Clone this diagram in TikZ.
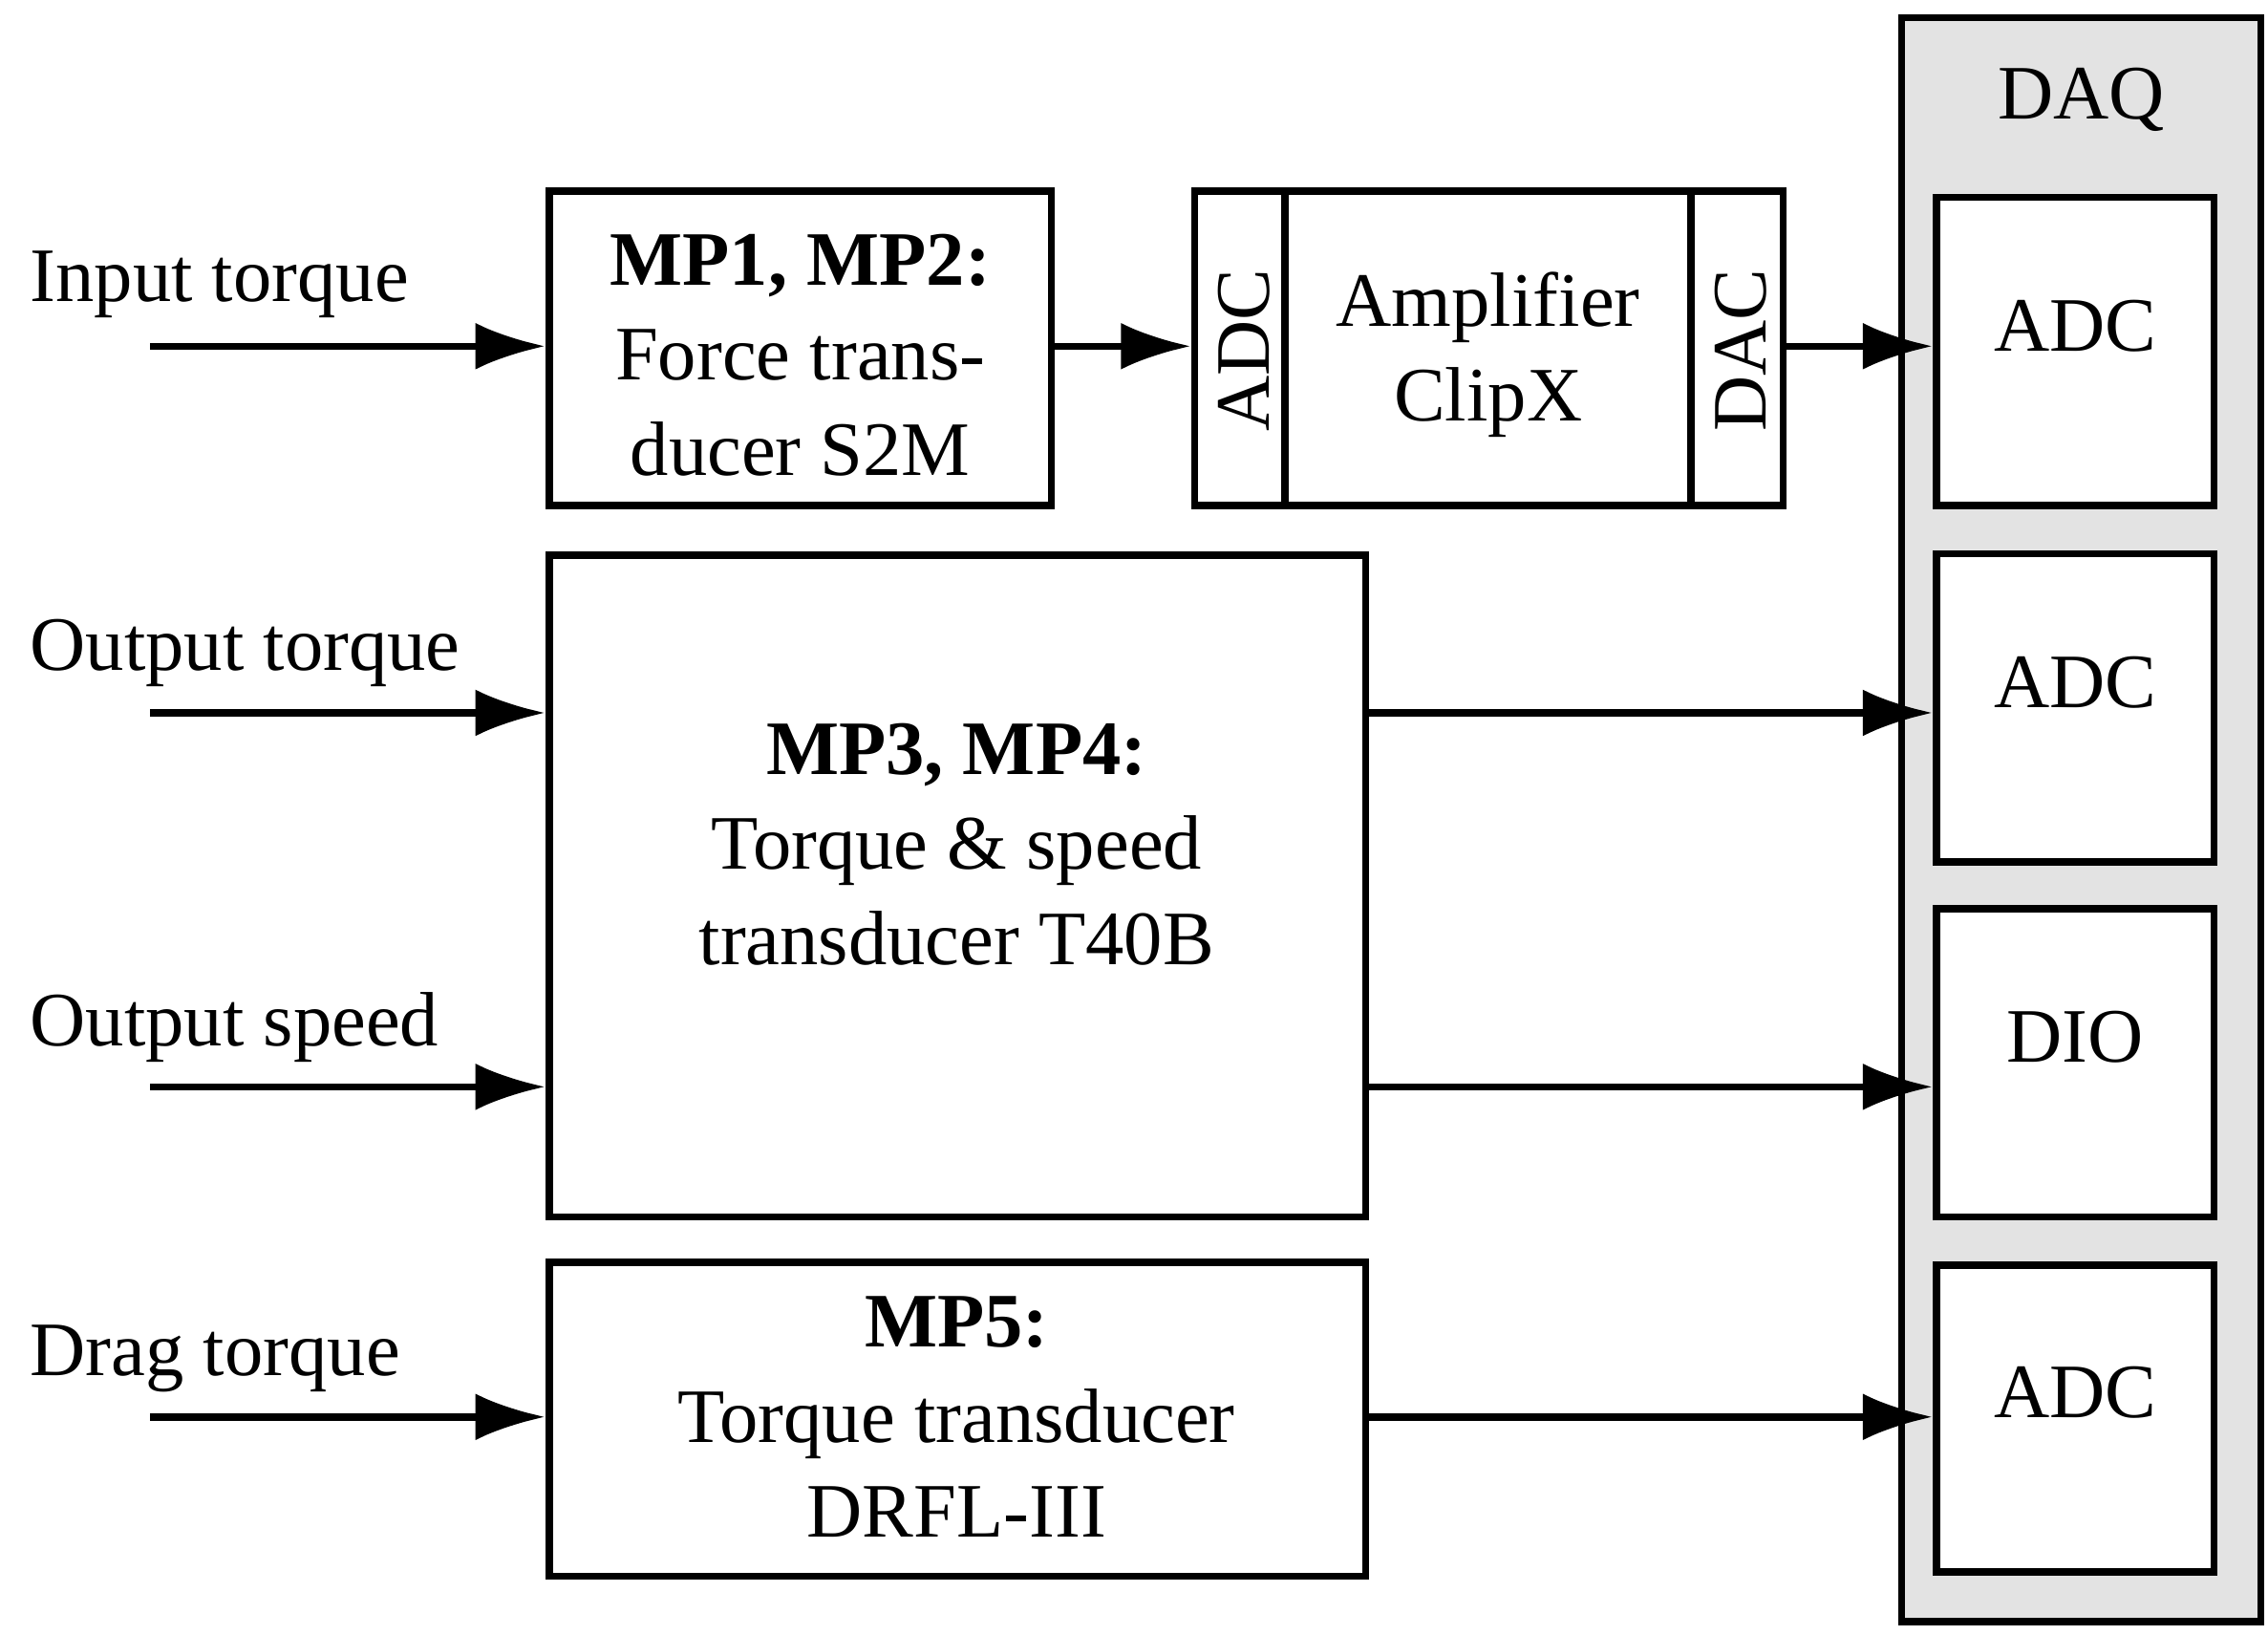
\documentclass[tikz,border=0pt]{standalone}
\usepackage{fontspec}
\setmainfont{Liberation Serif}
\usetikzlibrary{arrows.meta,fit,calc}

\tikzset{
  blk/.style={draw, line width=1.4pt, inner sep=0pt, align=center},
  txt/.style={align=center},
  sig/.style={line width=1.4pt, -{Latex[length=4.8mm,width=3.2mm]}},
  lbl/.style={anchor=west, inner sep=0pt}
}

\begin{document}
\begin{tikzpicture}[x=0.1mm,y=-0.1mm,font=\fontsize{15}{18.5}\selectfont]
        \useasboundingbox (0,0) rectangle (1553,1119);
        % DAQ frame
        \node[blk, fill=black!11, fit={(1302,12) (1548,1110)}] (daq) {};
        \node at (1425,68) {DAQ};
        \node[blk, fill=white, fit={(1326,135) (1516,346)}] (adc1) {ADC};
        \node[blk, fill=white, fit={(1326,379) (1516,590)}] (adc2) {ADC};
        \node[blk, fill=white, fit={(1326,622) (1516,833)}] (dio) {DIO};
        \node[blk, fill=white, fit={(1326,866) (1516,1076)}] (adc3) {ADC};
        % transducers
        \node[blk, fit={(376,131) (720,346)}] (mp1) {};
        \node[txt] at (548,243) {\textbf{MP1, MP2:}\\Force trans-\\ducer S2M};
        \node[blk, fit={(818,131) (1221,346)}] (amp) {};
        \node[txt] at (1019,243) {Amplifier\\ClipX};
        \draw[line width=1.4pt] (880,131) -- (880,346) (1158,131) -- (1158,346);
        \node[rotate=90] at (852,240) {ADC};
        \node[rotate=90] at (1192,240) {DAC};
        \node[blk, fit={(376,380) (935,833)}] (mp3) {};
        \node[txt] at (655,578) {\textbf{MP3, MP4:}\\Torque \& speed\\transducer T40B};
        \node[blk, fit={(376,864) (935,1079)}] (mp5) {};
        \node[txt] at (655,970) {\textbf{MP5:}\\Torque transducer\\DRFL-III};
        % inputs
        \coordinate (in1) at (103,237);
        \coordinate (in2) at (103,488);
        \coordinate (in3) at (103,744);
        \coordinate (in4) at (103,970);
        \node[lbl] at (20,195) {Input torque};
        \node[lbl] at (20,447) {Output torque};
        \node[lbl] at (20,703) {Output speed};
        \node[lbl] at (20,930) {Drag torque};
        \draw[sig] (in1) -- (mp1.west |- in1);
        \draw[sig] (in2) -- (mp3.west |- in2);
        \draw[sig] (in3) -- (mp3.west |- in3);
        \draw[sig] (in4) -- (mp5.west |- in4);
        % outputs
        \draw[sig] (mp1.east |- in1) -- (amp.west |- in1);
        \draw[sig] (amp.east |- in1) -- (adc1.west |- in1);
        \draw[sig] (mp3.east |- in2) -- (adc2.west |- in2);
        \draw[sig] (mp3.east |- in3) -- (dio.west |- in3);
        \draw[sig] (mp5.east |- in4) -- (adc3.west |- in4);
\end{tikzpicture}
\end{document}
